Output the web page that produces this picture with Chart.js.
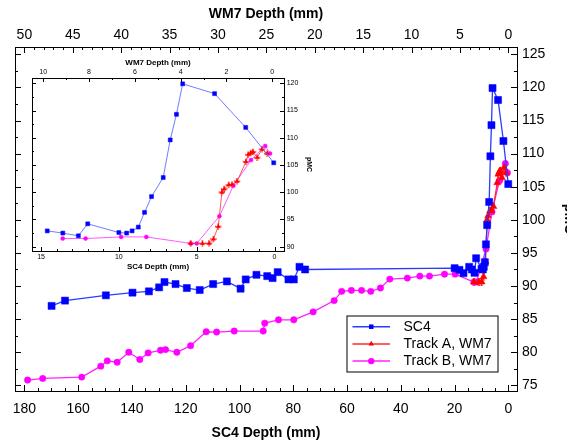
<!DOCTYPE html>
<html><head><meta charset="utf-8">
<script src="https://cdn.jsdelivr.net/npm/chart.js@4.4.1/dist/chart.umd.min.js"></script>
<style>
html,body{margin:0;padding:0;background:#fff;overflow:hidden;width:567px;height:443px;}
#wrap{position:relative;width:580px;height:443px;}
#main{position:absolute;left:0;top:0;}
#inset{position:absolute;left:28px;top:54px;}
</style></head><body>
<div id="wrap"><canvas id="main" width="580" height="443"></canvas><canvas id="inset" width="286" height="218"></canvas></div>
<script>
// ---------- data ----------
const seriesNames = ['SC4', 'Track A, WM7', 'Track B, WM7'];
// SC4: depth in SC4 mm, pMC
const sc4Depth = [169.9, 164.9, 149.7, 139.8, 133.7, 129.9, 127.9, 123.8, 119.6, 114.8, 109.8, 104.7, 99.6, 97.7, 93.7, 89.7, 87.7, 85.8, 81.8, 79.8, 77.7, 75.6, 20.0, 18.2, 16.7, 14.6, 13.6, 12.6, 12.0, 10.0, 9.5, 9.15, 8.75, 8.35, 7.9, 7.15, 6.7, 6.3, 5.9, 3.85, 1.85, 0.05];
const sc4PMC   = [87.0, 87.8, 88.6, 89.0, 89.2, 89.8, 90.6, 90.3, 89.7, 89.4, 90.3, 90.7, 89.6, 91.0, 91.7, 91.5, 91.2, 92.1, 91.0, 91.0, 92.9, 92.5, 92.7, 92.45, 91.95, 92.9, 92.5, 92.0, 94.2, 92.6, 92.5, 92.9, 93.6, 96.3, 99.2, 102.7, 109.6, 114.3, 119.9, 118.1, 111.9, 105.4];
// Track A, WM7: depth in WM7 mm, pMC
const trackADepth = [3.56, 3.05, 2.76, 2.57, 2.36, 2.2, 2.1, 1.9, 1.76, 1.54, 1.15, 1.05, 0.94, 0.84, 0.66, 0.45, 0.22];
const trackAPMC   = [90.6, 90.6, 90.6, 91.4, 93.7, 100.0, 100.6, 101.35, 101.4, 102.0, 105.6, 106.9, 107.2, 107.4, 106.35, 107.9, 107.1];
const trackAErrDepth = 0.12;
const trackAErrPMC = 0.5;
// Track B, WM7: depth in WM7 mm, pMC
const trackBDepth = [49.67, 48.11, 44.08, 42.11, 41.44, 40.42, 39.22, 38.08, 37.22, 35.94, 35.42, 34.25, 32.83, 31.22, 30.14, 28.33, 25.33, 25.17, 23.75, 22.17, 20.17, 18.0, 17.22, 16.22, 15.17, 14.22, 13.22, 12.25, 10.44, 9.15, 8.15, 6.6, 5.5, 3.56, 3.3, 2.31, 1.7, 0.93, 0.31, 0.1];
const trackBPMC   = [75.8, 76.05, 76.25, 77.9, 78.7, 78.5, 80.0, 78.9, 79.9, 80.3, 80.4, 80.0, 81.0, 83.1, 83.05, 83.2, 83.2, 84.4, 84.9, 84.9, 86.1, 87.8, 89.2, 89.35, 89.35, 89.2, 89.7, 91.05, 91.2, 91.5, 91.5, 91.8, 91.8, 90.6, 90.6, 95.6, 101.2, 105.9, 108.5, 107.1];

// tick labels
const mainSC4Ticks = [0, 20, 40, 60, 80, 100, 120, 140, 160, 180];
const mainWM7Ticks = [0, 5, 10, 15, 20, 25, 30, 35, 40, 45, 50];
const mainPMCTicks = [75, 80, 85, 90, 95, 100, 105, 110, 115, 120, 125];
const insetSC4Ticks = [0, 5, 10, 15];
const insetWM7Ticks = [0, 2, 4, 6, 8, 10];
const insetPMCTicks = [90, 95, 100, 105, 110, 115, 120];
// inset shows only the shallow part of each record
const insetSC4MaxDepth = 15;
const insetWM7MaxDepth = 9.5;

// ---------- helpers ----------
const FONT = "'Liberation Sans', Arial, Helvetica, sans-serif";
Chart.defaults.font.family = FONT;
Chart.defaults.color = '#000';
const pts = (xs, ys) => xs.map((x, i) => ({x: x, y: ys[i]}));
const ptsMax = (xs, ys, m) => pts(xs, ys).filter(p => p.x <= m);
const tickSetter = arr => (s => { s.ticks = arr.map(v => ({value: v})); });

function marker(ctx, style, x, y, r) {
  ctx.beginPath();
  if (style === 'rect') {
    const h = r * Math.SQRT1_2; ctx.rect(x - h, y - h, 2 * h, 2 * h);
  } else if (style === 'triangle') {
    const h = r * 1.5 / Math.sqrt(3) * Math.sqrt(3) / 1.5;
    ctx.moveTo(x, y - r); ctx.lineTo(x + r * 0.866, y + r * 0.5); ctx.lineTo(x - r * 0.866, y + r * 0.5); ctx.closePath();
  } else {
    ctx.arc(x, y, r, 0, Math.PI * 2);
  }
  ctx.fill();
}

const inTicks = {
  id: 'inTicks',
  afterDatasetsDraw(chart, args, opts) {
    const ctx = chart.ctx, a = chart.chartArea;
    ctx.save(); ctx.strokeStyle = '#000'; ctx.lineWidth = 1;
    (opts.axes || []).forEach(t => {
      const s = chart.scales[t.id];
      const lo = Math.min(s.min, s.max), hi = Math.max(s.min, s.max);
      const i0 = Math.ceil(lo / t.minor - 1e-9), i1 = Math.floor(hi / t.minor + 1e-9);
      for (let i = i0; i <= i1; i++) {
        const v = i * t.minor, r = v / t.major;
        const len = Math.abs(r - Math.round(r)) < 1e-6 ? t.majLen : t.minLen;
        const p = Math.round(s.getPixelForValue(v)) + 0.5;
        ctx.beginPath();
        if (t.side === 'bottom') { ctx.moveTo(p, a.bottom); ctx.lineTo(p, a.bottom - len); }
        else if (t.side === 'top') { ctx.moveTo(p, a.top); ctx.lineTo(p, a.top + len); }
        else if (t.side === 'left') { ctx.moveTo(a.left, p); ctx.lineTo(a.left + len, p); }
        else { ctx.moveTo(a.right, p); ctx.lineTo(a.right - len, p); }
        ctx.stroke();
      }
    });
    ctx.restore();
  }
};

const errBars = {
  id: 'errBars',
  beforeDatasetsDraw(chart, args, opts) {
    const ctx = chart.ctx, a = chart.chartArea;
    ctx.save();
    ctx.beginPath(); ctx.rect(a.left, a.top, a.right - a.left, a.bottom - a.top); ctx.clip();
    chart.data.datasets.forEach((ds, i) => {
      if (ds.errX === undefined) return;
      const meta = chart.getDatasetMeta(i);
      const xs = chart.scales[meta.xAxisID], ys = chart.scales[meta.yAxisID];
      ctx.strokeStyle = ds.pointBackgroundColor; ctx.lineWidth = opts.width || 0.8;
      ctx.beginPath();
      ds.data.forEach(p => {
        const px = xs.getPixelForValue(p.x), py = ys.getPixelForValue(p.y);
        const x0 = xs.getPixelForValue(p.x - ds.errX), x1 = xs.getPixelForValue(p.x + ds.errX);
        const y0 = ys.getPixelForValue(p.y - ds.errY), y1 = ys.getPixelForValue(p.y + ds.errY);
        const c = opts.cap || 1.5;
        ctx.moveTo(x0, py); ctx.lineTo(x1, py);
        ctx.moveTo(px, y0); ctx.lineTo(px, y1);
        ctx.moveTo(x0, py - c); ctx.lineTo(x0, py + c);
        ctx.moveTo(x1, py - c); ctx.lineTo(x1, py + c);
        ctx.moveTo(px - c, y0); ctx.lineTo(px + c, y0);
        ctx.moveTo(px - c, y1); ctx.lineTo(px + c, y1);
      });
      ctx.stroke();
    });
    ctx.restore();
  }
};

const boxLegend = {
  id: 'boxLegend',
  afterDraw(chart, args, o) {
    if (!o || !o.show) return;
    const ctx = chart.ctx;
    ctx.save();
    ctx.fillStyle = '#fff'; ctx.fillRect(o.x, o.y, o.w, o.h);
    ctx.strokeStyle = '#000'; ctx.lineWidth = 1; ctx.strokeRect(o.x + 0.5, o.y + 0.5, o.w, o.h);
    chart.data.datasets.forEach((ds, i) => {
      const cy = o.y + o.rowTop + i * o.rowGap;
      ctx.strokeStyle = ds.borderColor; ctx.lineWidth = 1.5;
      ctx.beginPath(); ctx.moveTo(o.x + o.line0, cy); ctx.lineTo(o.x + o.line1, cy); ctx.stroke();
      ctx.fillStyle = ds.pointBackgroundColor;
      marker(ctx, ds.pointStyle, o.x + (o.line0 + o.line1) / 2, cy, o.markR);
      ctx.fillStyle = '#000'; ctx.font = o.font; ctx.textBaseline = 'middle'; ctx.textAlign = 'left';
      ctx.fillText(ds.label, o.x + o.textX, cy + 0.5);
    });
    ctx.restore();
  }
};

function ds(label, data, xAxis, color, lineColor, style, r, lw, extra) {
  return Object.assign({
    label: label, data: data, xAxisID: xAxis, yAxisID: 'y', showLine: true,
    borderColor: lineColor, borderWidth: lw, backgroundColor: color,
    pointBackgroundColor: color, pointBorderColor: color, pointBorderWidth: 0.5,
    pointStyle: style, pointRadius: r, pointHoverRadius: r, tension: 0
  }, extra || {});
}

function axis(pos, min, max, ticksArr, fontSize, pad, size, title, titleSize, titlePad, reverse) {
  const horiz = pos === 'top' || pos === 'bottom';
  const o = {
    type: 'linear', position: pos, min: min, max: max, reverse: !!reverse,
    grid: {drawOnChartArea: false, drawTicks: false},
    border: {display: true, color: '#000', width: 1},
    ticks: {display: !!ticksArr, font: {size: fontSize}, color: '#000', padding: pad, maxRotation: 0, autoSkip: false},
    title: {display: !!title, text: title || '', color: '#000', font: {size: titleSize, weight: 'bold'}, padding: titlePad || 0},
    afterFit: s => { if (horiz) s.height = size; else s.width = size; }
  };
  if (ticksArr) o.afterBuildTicks = tickSetter(ticksArr);
  return o;
}

// ---------- main chart ----------
const mainSC4Range = [-3.2, 183.5];
const sc4PerWM7 = 3.6;
const mainPMCRange = [74.15, 126.1];

new Chart(document.getElementById('main'), {
  type: 'scatter',
  data: {datasets: [
    ds(seriesNames[0], pts(sc4Depth, sc4PMC), 'x', '#0000ff', '#2a3cff', 'rect', 5, 1.3),
    ds(seriesNames[1], pts(trackADepth, trackAPMC), 'x2', '#ff0000', '#ff2a2a', 'triangle', 4, 1.3, {errX: trackAErrDepth, errY: trackAErrPMC}),
    ds(seriesNames[2], pts(trackBDepth, trackBPMC), 'x2', '#ff00ff', '#ff20ff', 'circle', 3.2, 1.3)
  ]},
  options: {
    responsive: false, animation: false, events: [],
    layout: {padding: 0},
    plugins: {
      legend: {display: false}, tooltip: {enabled: false},
      errBars: {width: 0.8, cap: 1.2},
      inTicks: {axes: [
        {id: 'x', side: 'bottom', major: 20, minor: 5, majLen: 6, minLen: 3},
        {id: 'x2', side: 'top', major: 5, minor: 1, majLen: 6, minLen: 3},
        {id: 'y', side: 'right', major: 5, minor: 2.5, majLen: 6, minLen: 3},
        {id: 'yL', side: 'left', major: 5, minor: 2.5, majLen: 6, minLen: 3}
      ]},
      boxLegend: {show: true, x: 346.5, y: 315.5, w: 151, h: 56, rowTop: 11.2, rowGap: 17.2,
                  line0: 6, line1: 43.5, markR: 3.2, textX: 57, font: '14px ' + FONT}
    },
    scales: {
      x: axis('bottom', mainSC4Range[0], mainSC4Range[1], mainSC4Ticks, 14, 10, 52, 'SC4 Depth (mm)', 14, {top: 0, bottom: 1.3}, true),
      x2: axis('top', mainSC4Range[0] / sc4PerWM7, mainSC4Range[1] / sc4PerWM7, mainWM7Ticks, 14, 3, 47, 'WM7 Depth (mm)', 14, {top: 6, bottom: 0}, true),
      y: axis('right', mainPMCRange[0], mainPMCRange[1], mainPMCTicks, 14, 5, 63, 'pMC', 14, {top: 3, bottom: 0}),
      yL: axis('left', mainPMCRange[0], mainPMCRange[1], null, 14, 0, 15, null, 14, 0)
    }
  },
  plugins: [inTicks, errBars, boxLegend]
});

// ---------- inset chart ----------
const insetSC4Range = [-0.61, 15.58];
const insetWM7Range = [-0.51, 10.49];
const insetPMCRange = [89.21, 120.97];

new Chart(document.getElementById('inset'), {
  type: 'scatter',
  data: {datasets: [
    ds(seriesNames[0], ptsMax(sc4Depth, sc4PMC, insetSC4MaxDepth), 'x', '#0000ff', '#4a5aff', 'rect', 2.8, 0.8),
    ds(seriesNames[1], pts(trackADepth, trackAPMC), 'x2', '#ff0000', '#ff3030', 'triangle', 2.4, 0.8, {errX: trackAErrDepth, errY: trackAErrPMC}),
    ds(seriesNames[2], ptsMax(trackBDepth, trackBPMC, insetWM7MaxDepth), 'x2', '#ff00ff', '#ff30ff', 'circle', 2, 0.8)
  ]},
  options: {
    responsive: false, animation: false, events: [],
    layout: {padding: 0},
    plugins: {
      legend: {display: false}, tooltip: {enabled: false},
      errBars: {width: 0.6, cap: 1},
      inTicks: {axes: [
        {id: 'x', side: 'bottom', major: 5, minor: 1, majLen: 4, minLen: 2},
        {id: 'x2', side: 'top', major: 2, minor: 1, majLen: 4, minLen: 2},
        {id: 'y', side: 'right', major: 5, minor: 2.5, majLen: 4, minLen: 2},
        {id: 'yL', side: 'left', major: 5, minor: 2.5, majLen: 4, minLen: 2}
      ]},
      boxLegend: {show: false}
    },
    scales: {
      x: axis('bottom', insetSC4Range[0], insetSC4Range[1], insetSC4Ticks, 7, 2.3, 21, 'SC4 Depth (mm)', 8, {top: 0, bottom: 0.7}, true),
      x2: axis('top', insetWM7Range[0], insetWM7Range[1], insetWM7Ticks, 7, 1.5, 24, 'WM7 Depth (mm)', 8, {top: 3.9, bottom: 0}, true),
      y: axis('right', insetPMCRange[0], insetPMCRange[1], insetPMCTicks, 7, 2.7, 30, 'pMC', 7, {top: 0.8, bottom: 0}),
      yL: axis('left', insetPMCRange[0], insetPMCRange[1], null, 7, 0, 4, null, 7, 0)
    }
  },
  plugins: [inTicks, errBars]
});
</script>
</body></html>
